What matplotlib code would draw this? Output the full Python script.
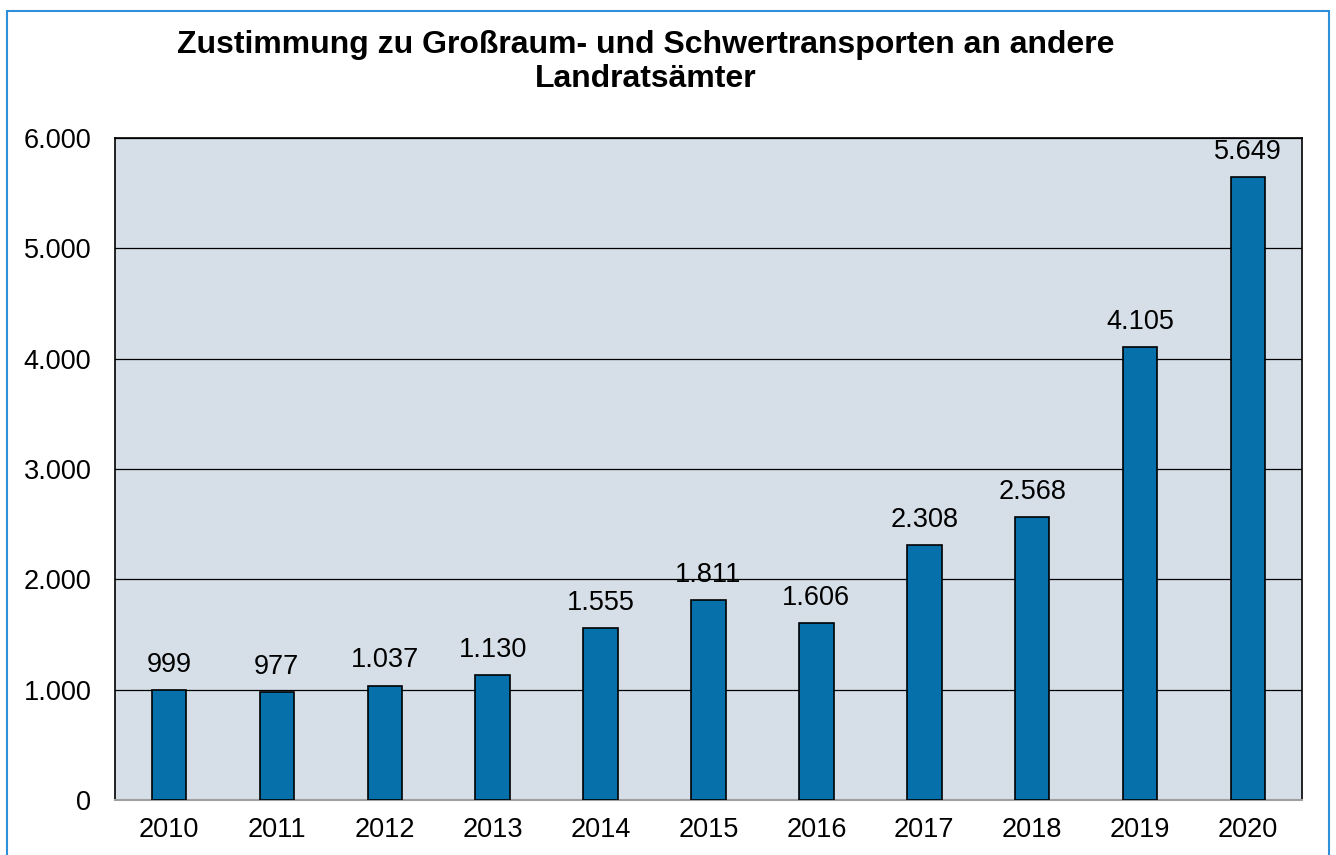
import matplotlib
matplotlib.use('Agg')
import matplotlib.pyplot as plt
import matplotlib.patches as patches
from matplotlib.ticker import FuncFormatter

years = ['2010', '2011', '2012', '2013', '2014', '2015', '2016', '2017', '2018', '2019', '2020']
counts = [999, 977, 1037, 1130, 1555, 1811, 1606, 2308, 2568, 4105, 5649]
title = 'Zustimmung zu Großraum- und Schwertransporten an andere\nLandratsämter'

plt.rcParams['font.family'] = ['Liberation Sans', 'DejaVu Sans']

W, H = 1336, 855
fig = plt.figure(figsize=(W / 100, H / 100), dpi=100)
fig.patch.set_facecolor('white')

# blue frame around the whole chart
frame = patches.Rectangle((7 / W, -0.02), (1329 - 7) / W, 1 - 11 / H + 0.02,
                          transform=fig.transFigure, fill=False,
                          edgecolor='#2f8fd8', linewidth=1.5)
fig.patches.append(frame)

ax = fig.add_axes([115 / W, 1 - 800 / H, (1302 - 115) / W, (800 - 138) / H])
ax.set_facecolor('#d6dfe8')

def fmt(v):
    return f'{int(v):,}'.replace(',', '.')

x = range(len(years))
bars = ax.bar(x, counts, width=0.32, color='#0570aa', edgecolor='black',
              linewidth=1.2, zorder=3)

for xi, v in zip(x, counts):
    ax.text(xi, v + 110, fmt(v), ha='center', va='bottom', fontsize=19.5, zorder=4)

ax.set_xlim(-0.5, len(years) - 0.5)
ax.set_ylim(0, 6000)
ax.set_yticks(range(0, 6001, 1000))
ax.yaxis.set_major_formatter(FuncFormatter(lambda v, p: fmt(v)))
ax.set_xticks(list(x))
ax.set_xticklabels(years)
ax.tick_params(axis='both', length=0, labelsize=19.5)
ax.tick_params(axis='y', pad=17)
ax.tick_params(axis='x', pad=12)

ax.yaxis.grid(True, color='black', linewidth=0.9, zorder=1)
ax.set_axisbelow(True)

for side in ['left', 'top', 'right']:
    ax.spines[side].set_color('black')
    ax.spines[side].set_linewidth(1.2)
ax.spines['bottom'].set_color('#a0a0a0')
ax.spines['bottom'].set_linewidth(1.5)

fig.text(646 / W, 1 - 62 / H, title, ha='center', va='center', fontsize=23,
         fontweight='bold', linespacing=1.2)

fig.savefig('out.png', dpi=100)
